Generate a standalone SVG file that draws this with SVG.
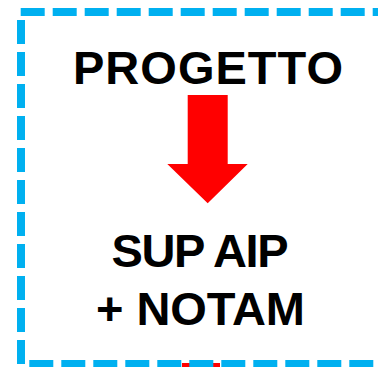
<svg xmlns="http://www.w3.org/2000/svg" width="378" height="367" viewBox="0 0 378 367">
  <style>
    .frame { fill: none; stroke: #00B0F0; stroke-width: 8; stroke-dasharray: 24 8; }
    .lbl { font-family: "Liberation Sans", Arial, sans-serif; font-weight: bold; font-size: 47px; fill: #000000; text-anchor: middle; }
  </style>
  <rect x="182" y="363" width="38" height="6" fill="#FF0000"/>
  <g id="frame">
    <path class="frame" d="M20.7,12 H380"/>
    <path class="frame" d="M21,20 V364"/>
    <path class="frame" d="M29.3,364 H380"/>
  </g>
  <g id="node-progetto">
    <text class="lbl" x="208" y="83.5" textLength="270" lengthAdjust="spacing">PROGETTO</text>
  </g>
  <g id="connectors">
    <polygon points="187.7,95 227.7,95 227.7,164 247.7,164 207.7,203.3 167.3,164 187.7,164" fill="#FF0000"/>
  </g>
  <g id="node-supaip">
    <text class="lbl" x="200" y="266.7" textLength="177" lengthAdjust="spacing">SUP AIP</text>
    <text class="lbl" x="200.5" y="325" textLength="209" lengthAdjust="spacing">+ NOTAM</text>
  </g>
</svg>
